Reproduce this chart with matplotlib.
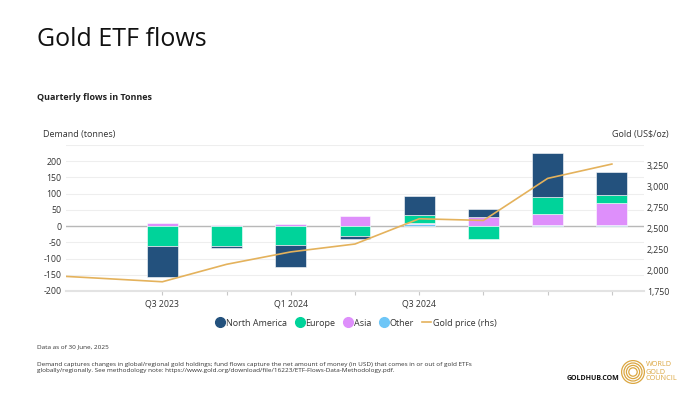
import numpy as np
import matplotlib
matplotlib.use("Agg")
import matplotlib.pyplot as plt
from matplotlib.lines import Line2D
from matplotlib.patches import Circle

plt.rcParams['font.family'] = ['Open Sans', 'DejaVu Sans']

# flows in tonnes, Q3 2023 .. Q2 2025
quarters = ["Q3 2023", "Q4 2023", "Q1 2024", "Q2 2024",
            "Q3 2024", "Q4 2024", "Q1 2025", "Q2 2025"]
north_america = [-94, -6, -68, -8, 60, 26, 134, 72]
europe = [-62, -60, -59, -31, 22, -39, 54, 23]
asia = [9, 3, 6, 31, 6, 27, 34, 70]
other = [0, 0, 0, 0, 5, 0, 2, 2]

# gold price (US$/oz), starts two quarters earlier than the flows
price_quarters = ["Q1 2023", "Q2 2023"] + quarters
gold_price = [1945, 1903, 1860, 2068, 2216, 2310, 2611, 2591, 3092, 3263]

shown_labels = ["Q3 2023", "Q1 2024", "Q3 2024"]

c_na = "#23517d"
c_eu = "#00d39a"
c_as = "#de8ffb"
c_ot = "#6ec6f7"
c_gold = "#e4b25c"
txt = "#333333"

fig = plt.figure(figsize=(7, 3.96), dpi=100)
ax = fig.add_axes([66 / 700, 1 - 291 / 396, (644 - 66) / 700, (291 - 145) / 396])
ax2 = ax.twinx()

x = np.arange(len(quarters))
pos_bottom = np.zeros(len(quarters))
neg_bottom = np.zeros(len(quarters))
for vals, col in [(other, c_ot), (asia, c_as), (europe, c_eu), (north_america, c_na)]:
    v = np.array(vals, dtype=float)
    b = np.where(v >= 0, pos_bottom, neg_bottom)
    ax.bar(x, v, 0.48, bottom=b, color=col, edgecolor="white", linewidth=0.4, zorder=3)
    pos_bottom += np.where(v >= 0, v, 0)
    neg_bottom += np.where(v < 0, v, 0)

px = np.arange(len(price_quarters)) - 2
ax2.plot(px, gold_price, color=c_gold, lw=1.2, zorder=4)

ax.set_xlim(-1.5, 7.5)
ax.set_ylim(-200, 250)
ax.set_yticks(np.arange(-200, 201, 50))
ax.set_yticklabels([str(v) for v in range(-200, 201, 50)])
for yv in np.arange(-200, 251, 50):
    ax.axhline(yv, color="#eeeeee", lw=0.8, zorder=0)
ax.axhline(0, color="#b8b8b8", lw=1.0, zorder=2)

ax.set_xticks(x)
ax.set_xticklabels([q if q in shown_labels else "" for q in quarters])

ax2.set_ylim(1750, 3490)
ax2.set_yticks(np.arange(1750, 3251, 250))
ax2.set_yticklabels([f"{v:,}" for v in range(1750, 3251, 250)])

for a in (ax, ax2):
    for s in a.spines.values():
        s.set_visible(False)
ax.spines["bottom"].set_visible(True)
ax.spines["bottom"].set_color("#e3e3e3")
ax.spines["bottom"].set_linewidth(1.5)
ax.tick_params(axis="y", length=0, labelsize=6.3, labelcolor=txt, pad=3)
ax.tick_params(axis="x", length=3, color="#c8c8c8", labelsize=6.3, labelcolor=txt, pad=3)
ax2.tick_params(axis="y", length=0, labelsize=6.3, labelcolor=txt, pad=2)

# texts
fig.text(37 / 700, 1 - 40 / 396, "Gold ETF flows", fontsize=18, color="#111111", va="center")
fig.text(37 / 700, 1 - 97 / 396, "Quarterly flows in Tonnes", fontsize=6.5,
         fontweight="bold", color="#222222", va="center")
fig.text(43 / 700, 1 - 134 / 396, "Demand (tonnes)", fontsize=6.5, color=txt, va="center")
fig.text(669 / 700, 1 - 134 / 396, "Gold (US$/oz)", fontsize=6.5, color=txt, va="center", ha="right")

handles = [
    Line2D([], [], marker="o", ls="", color=c_na, markersize=7),
    Line2D([], [], marker="o", ls="", color=c_eu, markersize=7),
    Line2D([], [], marker="o", ls="", color=c_as, markersize=7),
    Line2D([], [], marker="o", ls="", color=c_ot, markersize=7),
    Line2D([], [], color=c_gold, lw=1.2),
]
labels = ["North America", "Europe", "Asia", "Other", "Gold price (rhs)"]
fig.legend(handles, labels, loc="center", bbox_to_anchor=(356 / 700, 1 - 323 / 396), ncol=5,
           frameon=False, fontsize=6.5, handlelength=1.0, handletextpad=0.15,
           columnspacing=0.9, labelcolor=txt)

fig.text(37 / 700, 1 - 347 / 396, "Data as of 30 June, 2025", fontsize=4.6, color=txt, va="center")
fig.text(37 / 700, 1 - 367.5 / 396,
         "Demand captures changes in global/regional gold holdings; fund flows capture the net amount of money (in USD) that comes in or out of gold ETFs\n"
         "globally/regionally. See methodology note: https://www.gold.org/download/file/16223/ETF-Flows-Data-Methodology.pdf.",
         fontsize=4.6, color=txt, va="center", linespacing=1.25)
fig.text(567 / 700, 1 - 379 / 396, "GOLDHUB.COM", fontsize=5, fontweight="bold", color="#111111", va="center")

# logo
lax = fig.add_axes([(633 - 12) / 700, 1 - (372 + 12) / 396, 24 / 700, 24 / 396])
lax.set_xlim(-1, 1)
lax.set_ylim(-1, 1)
lax.set_aspect("equal")
lax.axis("off")
for r in (0.95, 0.75, 0.55, 0.35):
    lax.add_patch(Circle((0, 0), r, fill=False, ec="#dba640", lw=0.9))
fig.text(646 / 700, 1 - 372 / 396, "WORLD\nGOLD\nCOUNCIL", fontsize=5.2, color="#dba640",
         va="center", linespacing=1.0)

fig.savefig("out.png", dpi=100, facecolor="white")
